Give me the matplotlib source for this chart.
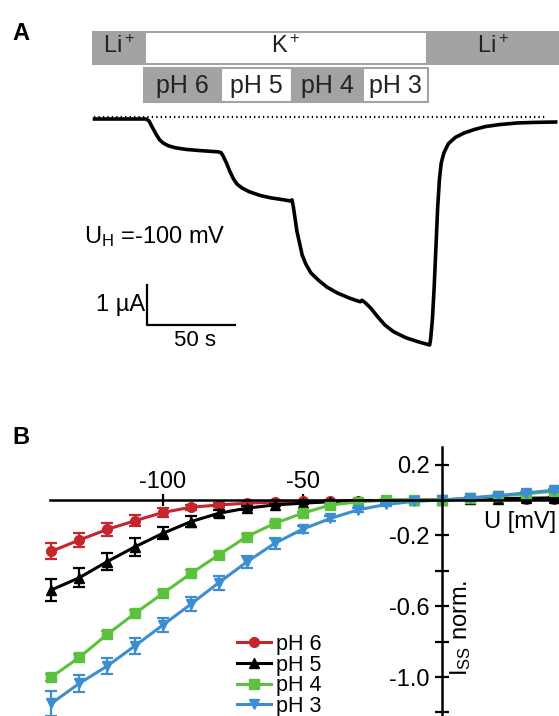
import matplotlib
matplotlib.use("Agg")
import matplotlib.pyplot as plt
from matplotlib.patches import Rectangle
from matplotlib.ticker import FixedLocator

plt.rcParams['font.family'] = ['Liberation Sans', 'DejaVu Sans']
plt.rcParams['mathtext.fontset'] = 'custom'
plt.rcParams['mathtext.rm'] = 'Liberation Sans'
plt.rcParams['mathtext.it'] = 'Liberation Sans:italic'
plt.rcParams['axes.unicode_minus'] = False

# ---- panel A: current trace (time in s, current in uA) ----
trace_t = [0, 29.3, 31, 33, 35, 37, 39, 42, 46, 52, 60, 70, 71.9, 73, 75, 77,
           79, 81, 84, 88, 94, 100, 106, 111.4, 112.2, 113, 114, 115, 116.5,
           118, 120, 123, 127, 132, 138, 145, 151, 152, 154, 157, 161, 165,
           170, 177, 184, 190.4, 191, 192, 193, 194, 195, 196, 197, 198.5, 201,
           205, 210, 216, 222, 230, 240, 250, 262]
trace_i = [0, 0, -0.05, -0.22, -0.38, -0.52, -0.6, -0.67, -0.72, -0.76, -0.79,
           -0.82, -0.84, -0.92, -1.1, -1.32, -1.5, -1.63, -1.73, -1.82, -1.91,
           -1.97, -2.01, -2.05, -2.02, -2.2, -2.5, -2.8, -3.1, -3.4, -3.62,
           -3.85, -4.02, -4.2, -4.35, -4.48, -4.57, -4.53, -4.6, -4.73, -4.95,
           -5.15, -5.32, -5.47, -5.57, -5.65, -5.5, -5.0, -4.2, -3.2, -2.2,
           -1.5, -1.1, -0.85, -0.62, -0.46, -0.35, -0.26, -0.19, -0.14, -0.1,
           -0.085, -0.075]

ion_labels = ['Li$^+$', 'K$^+$', 'Li$^+$']
ion_edges = [-0.9, 28.7, 188.9, 263.5]
ion_colors = ['#a3a3a3', 'white', '#a3a3a3']
ph_labels = ['pH 6', 'pH 5', 'pH 4', 'pH 3']
ph_edges = [28.1, 71.9, 112.2, 152.6, 189.5]
ph_colors = ['#a3a3a3', 'white', '#a3a3a3', 'white']

# ---- panel B: I/V curves ----
voltage = [-140, -130, -120, -110, -100, -90, -80, -70, -60, -50, -40, -30,
           -20, -10, 0, 10, 20, 30, 40]
ph6 = [-0.29, -0.226, -0.166, -0.117, -0.07, -0.041, -0.028, -0.018, -0.012,
       -0.008, -0.005, -0.003, -0.002, -0.001, 0, 0.003, 0.005, 0.006, 0.008]
ph6_err = [0.045, 0.04, 0.035, 0.03, 0.025, 0.015, 0.01, 0.008, 0.005, 0.004,
           0.003, 0.002, 0.002, 0.001, 0, 0.002, 0.002, 0.003, 0.003]
ph5 = [-0.508, -0.439, -0.348, -0.264, -0.188, -0.122, -0.075, -0.046, -0.028,
       -0.018, -0.01, -0.005, -0.002, -0.001, 0, 0.005, 0.008, 0.01, 0.012]
ph5_err = [0.06, 0.055, 0.05, 0.05, 0.035, 0.03, 0.02, 0.012, 0.008, 0.006,
           0.004, 0.003, 0.002, 0.001, 0, 0.002, 0.003, 0.003, 0.004]
ph4 = [-1.0, -0.889, -0.759, -0.64, -0.527, -0.415, -0.31, -0.207, -0.132,
       -0.075, -0.028, -0.01, 0, 0, 0, 0.01, 0.022, 0.035, 0.05]
ph4_err = [0.02, 0.02, 0.02, 0.02, 0.02, 0.02, 0.015, 0.015, 0.01, 0.01,
           0.008, 0.005, 0.003, 0.002, 0, 0.003, 0.004, 0.005, 0.006]
ph3 = [-1.149, -1.036, -0.938, -0.823, -0.706, -0.588, -0.467, -0.35, -0.245,
       -0.165, -0.104, -0.055, -0.025, -0.008, 0, 0.012, 0.025, 0.04, 0.055]
ph3_err = [0.07, 0.05, 0.045, 0.045, 0.04, 0.04, 0.04, 0.035, 0.03, 0.02,
           0.015, 0.01, 0.006, 0.004, 0, 0.004, 0.005, 0.006, 0.007]

W, H = 559, 716
fig = plt.figure(figsize=(W / 100, H / 100), dpi=100)

# panel A axes, spans top 360 px; 1.76 px/s, 40 px/uA
axa = fig.add_axes([0, 1 - 360 / H, 1, 360 / H])
axa.set_xlim(-53.69, 263.92)
axa.set_ylim(-6.025, 2.975)
axa.axis('off')

for i in range(len(ion_labels)):
    x0, x1 = ion_edges[i], ion_edges[i + 1]
    axa.add_patch(Rectangle((x0, 1.375), x1 - x0, 0.8, facecolor=ion_colors[i],
                            edgecolor='#a3a3a3', lw=1.5))
    axa.text((x0 + x1) / 2, 1.8, ion_labels[i], ha='center', va='center',
             fontsize=17, color='#222222')
for i in range(len(ph_labels)):
    x0, x1 = ph_edges[i], ph_edges[i + 1]
    axa.add_patch(Rectangle((x0, 0.425), x1 - x0, 0.85, facecolor=ph_colors[i],
                            edgecolor='#a3a3a3', lw=1.5))
    axa.text((x0 + x1) / 2, 0.82, ph_labels[i], ha='center', va='center',
             fontsize=18, color='#222222')

axa.plot([0, 256], [0.05, 0.05], color='black', lw=1.6, ls=(0, (0.6, 1.4)))
axa.plot(trace_t, trace_i, color='black', lw=2.6, solid_joinstyle='round')

axa.text(-6, -2.95, 'U$_\\mathrm{H}$ =-100 mV', ha='left', va='center', fontsize=17)
axa.plot([29.8, 29.8, 79.8], [-4.15, -5.15, -5.15], color='black', lw=1.6)
axa.text(28.5, -4.65, '1 µA', ha='right', va='center', fontsize=17)
axa.text(57, -5.55, '50 s', ha='center', va='center', fontsize=16)

fig.text(12 / W, 1 - 33 / H, 'A', fontsize=17, fontweight='bold', va='center')
fig.text(12 / W, 1 - 437 / H, 'B', fontsize=17, fontweight='bold', va='center')

# panel B axes: 0 mV at x=442 px, 2.79 px/mV; 0 at y=500 px, 177 px/unit
axb = fig.add_axes([45.8 / W, 0, 513.4 / W, (716 - 446.9) / H])
axb.set_xlim(-142, 42)
axb.set_ylim(-1.22, 0.3)
axb.patch.set_alpha(0)

series = [
    ('pH 6', ph6, ph6_err, '#c4262c', 'o'),
    ('pH 5', ph5, ph5_err, 'black', '^'),
    ('pH 4', ph4, ph4_err, '#5cc23e', 's'),
    ('pH 3', ph3, ph3_err, '#3d8ed0', 'v'),
]
for lab, y, e, c, m in series:
    axb.errorbar(voltage, y, yerr=e, fmt='none', ecolor=c, elinewidth=1.6,
                 capsize=4, capthick=1.6, clip_on=False)
    axb.plot(voltage, y, color=c, marker=m, ms=7, lw=2.2, label=lab,
             clip_on=False)

axb.spines['right'].set_visible(False)
axb.spines['bottom'].set_visible(False)
axb.spines['top'].set_position(('data', 0))
axb.spines['top'].set_bounds(-140.5, 42)
axb.spines['left'].set_position(('data', 0))
for s in ('top', 'left'):
    axb.spines[s].set_linewidth(1.8)
axb.xaxis.set_ticks_position('top')
axb.set_xticks([-100, -50])
axb.tick_params(axis='x', direction='inout', length=8, width=1.6, pad=1,
                labelsize=17)
axb.yaxis.set_major_locator(FixedLocator([0.2, -0.2, -0.6, -1.0]))
axb.yaxis.set_minor_locator(FixedLocator([-0.4, -0.8, -1.2]))
axb.yaxis.set_major_formatter(plt.FuncFormatter(lambda v, p: '%.1f' % v))
axb.tick_params(axis='y', which='both', direction='inout', length=10,
                width=1.6, pad=4, labelsize=17)

axb.text(40.9, -0.124, 'U [mV]', ha='right', va='center', fontsize=17)
axb.text(6.8, -0.72, 'I$_\\mathrm{SS}$ norm.', rotation=90, ha='center',
         va='center', fontsize=17)

axb.legend(loc='upper left', bbox_to_anchor=(237 / W, 1 - 634 / H),
           bbox_transform=fig.transFigure, frameon=False, fontsize=15.5,
           handlelength=1.6, handletextpad=0.2, labelspacing=-0.02,
           borderpad=0, borderaxespad=0)

fig.savefig('out.png', dpi=100)
